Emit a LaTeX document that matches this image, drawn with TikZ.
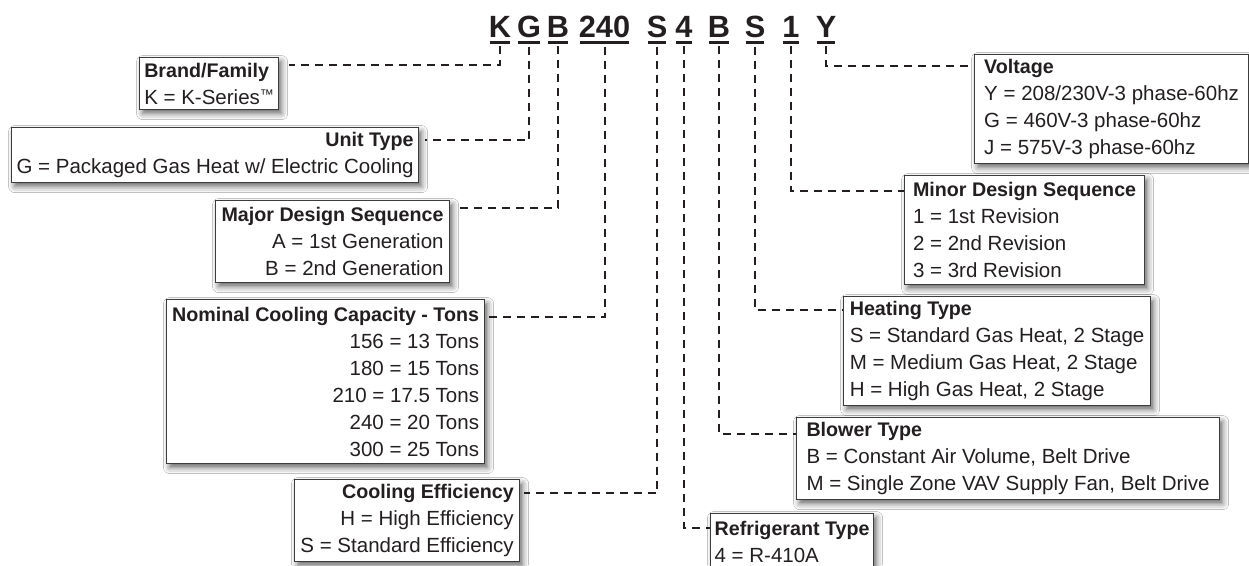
\documentclass[tikz,border=0pt]{standalone}
\usepackage{fontspec}
\setmainfont{Liberation Sans}[BoldFeatures={Scale=0.96}]
\usepackage{xcolor}
\usepackage{tikz}
\usetikzlibrary{positioning,shadows.blur}

\definecolor{inkblack}{HTML}{231F20}
\definecolor{boxgray}{HTML}{3C3C3C}

\newcommand{\tmark}{\raisebox{4.5pt}{\fontsize{14}{14}\selectfont ™}}

\tikzset{
  codechar/.style={font=\fontsize{32}{32}\selectfont\bfseries, text=inkblack, inner sep=0pt, anchor=base},
  keybox/.style={draw=boxgray, line width=1.2pt, fill=white, anchor=north west,
    inner xsep=4pt, inner ysep=0pt, text=inkblack, font=\fontsize{20.5}{27}\selectfont,
    blur shadow={shadow xshift=3pt, shadow yshift=-4pt, shadow blur radius=6pt, shadow opacity=60}},
  leftkey/.style={keybox, align=left},
  rightkey/.style={keybox, align=right},
  conn/.style={draw=inkblack, line width=2pt, dash pattern=on 8pt off 6pt},
  uline/.style={draw=inkblack, line width=3pt},
}

\begin{document}
\begin{tikzpicture}[x=1pt,y=-1pt]
    \path[use as bounding box, fill=white] (0,0) rectangle (1249,565);

    % Model number
    \node[codechar] (cK)   at (500,37) {K};
    \node[codechar] (cG)   at (529,37) {G};
    \node[codechar] (cB1)  at (558,37) {B};
    \node[codechar] (c240) at (604.5,37) {240};
    \node[codechar] (cS1)  at (657,37) {S};
    \node[codechar] (c4)   at (684,37) {4};
    \node[codechar] (cB2)  at (719,37) {B};
    \node[codechar] (cS2)  at (755,37) {S};
    \node[codechar] (c1)   at (791,37) {1};
    \node[codechar] (cY)   at (826,37) {Y};
    \foreach \c in {cK,cG,cB1,c240,cS1,c4,cB2,cS2,c1,cY}
        \draw[uline] ([xshift=1pt,yshift=-5pt]\c.south west) -- ([xshift=-1pt,yshift=-5pt]\c.south east);

    % Keys on the left
    \node[leftkey, minimum width=139pt, minimum height=52pt] (brand) at (139,57)
        {\textbf{Brand/Family}\\K = K-Series\tmark};
    \node[rightkey, minimum width=407pt, minimum height=55pt] (unit) at (11,127)
        {\textbf{Unit Type}\\G = Packaged Gas Heat w/ Electric Cooling};
    \node[rightkey, minimum width=234pt, minimum height=82pt] (major) at (215,200)
        {\textbf{Major Design Sequence}\\A = 1st Generation\\B = 2nd Generation};
    \node[rightkey, minimum width=318pt, minimum height=164pt] (nominal) at (166,299)
        {\textbf{Nominal Cooling Capacity - Tons}\\156 = 13 Tons\\180 = 15 Tons\\210 = 17.5 Tons\\240 = 20 Tons\\300 = 25 Tons};
    \node[rightkey, minimum width=225pt, minimum height=82pt] (cooling) at (294,479)
        {\textbf{Cooling Efficiency}\\H = High Efficiency\\S = Standard Efficiency};

    % Keys on the right
    \node[leftkey, minimum width=274pt, minimum height=109pt] (voltage) at (974,54)
        {\textbf{Voltage}\\Y = 208/230V-3 phase-60hz\\G = 460V-3 phase-60hz\\J = 575V-3 phase-60hz};
    \node[leftkey, minimum width=240pt, minimum height=109pt] (minor) at (904,175)
        {\textbf{Minor Design Sequence}\\1 = 1st Revision\\2 = 2nd Revision\\3 = 3rd Revision};
    \node[leftkey, minimum width=307pt, minimum height=109pt] (heating) at (843,296)
        {\textbf{Heating Type}\\S = Standard Gas Heat, 2 Stage\\M = Medium Gas Heat, 2 Stage\\H = High Gas Heat, 2 Stage};
    \node[leftkey, minimum width=423pt, minimum height=82pt] (blower) at (796,417)
        {\textbf{Blower Type}\\B = Constant Air Volume, Belt Drive\\M = Single Zone VAV Supply Fan, Belt Drive};
    \node[leftkey, minimum width=163pt, minimum height=56pt] (refrig) at (710,513)
        {\textbf{Refrigerant Type}\\4 = R-410A};

    % Leader lines
    \draw[conn] ([yshift=-9pt]cK.south)   |- ([xshift=10pt,yshift=-8pt]brand.north east);
    \draw[conn] ([yshift=-9pt]cG.south)   |- ([xshift=6pt,yshift=-13pt]unit.north east);
    \draw[conn] ([yshift=-9pt]cB1.south)  |- ([xshift=4pt,yshift=-8pt]major.north east);
    \draw[conn] ([yshift=-9pt]c240.south) |- ([xshift=4pt,yshift=-18pt]nominal.north east);
    \draw[conn] ([yshift=-9pt]cS1.south)  |- ([xshift=4pt,yshift=-14pt]cooling.north east);
    \draw[conn] ([yshift=-9pt]c4.south)   |- ([yshift=-15pt]refrig.north west);
    \draw[conn] ([yshift=-9pt]cB2.south)  |- ([yshift=-17pt]blower.north west);
    \draw[conn] ([yshift=-9pt]cS2.south)  |- ([yshift=-14pt]heating.north west);
    \draw[conn] ([yshift=-9pt]c1.south)   |- ([yshift=-16pt]minor.north west);
    \draw[conn] ([yshift=-9pt]cY.south)   |- ([yshift=-12pt]voltage.north west);
\end{tikzpicture}
\end{document}
